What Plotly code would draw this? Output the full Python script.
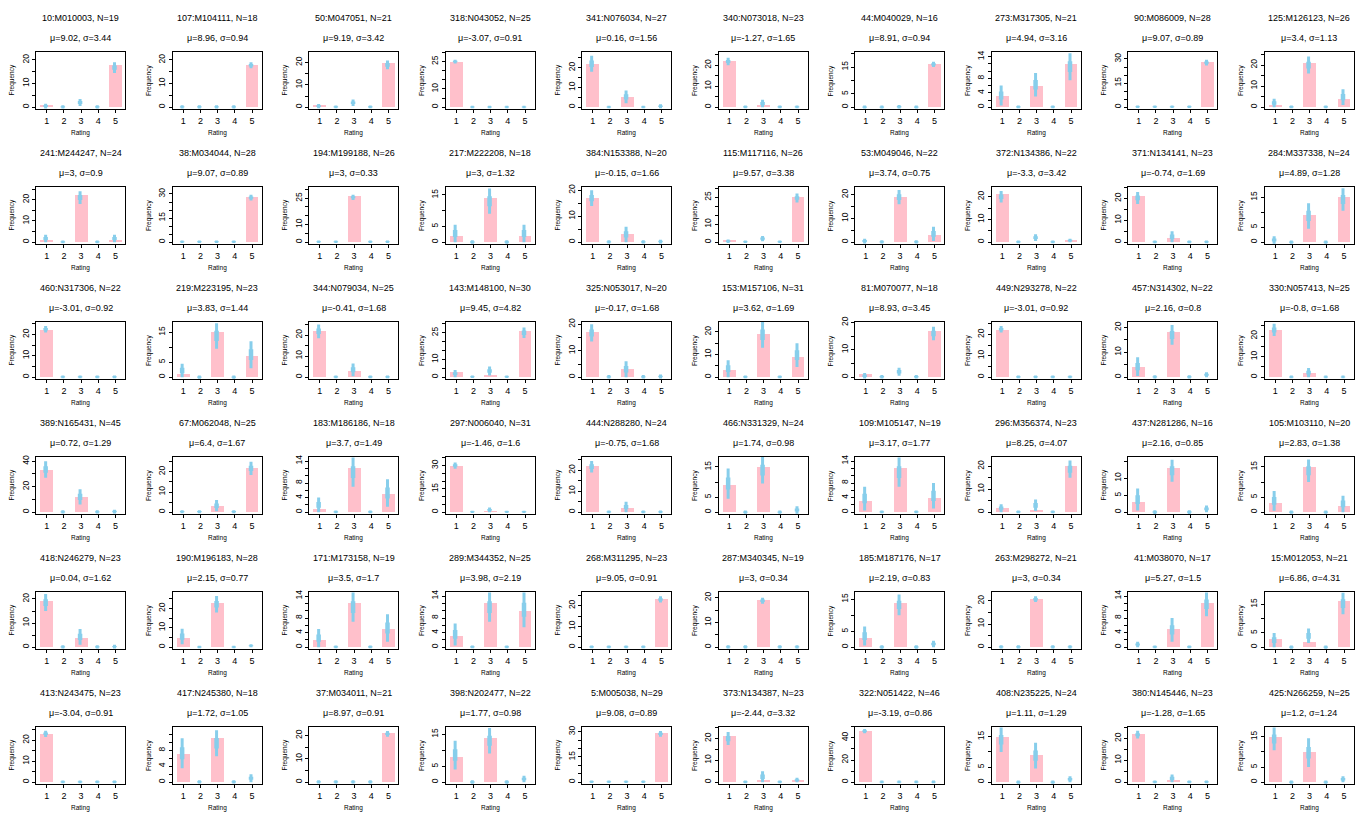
import plotly.graph_objects as go

ratings = [1, 2, 3, 4, 5]

titles = [
    "10:M010003, N=19", "107:M104111, N=18", "50:M047051, N=21", "318:N043052, N=25", "341:N076034, N=27",
    "340:N073018, N=23", "44:M040029, N=16", "273:M317305, N=21", "90:M086009, N=28", "125:M126123, N=26",
    "241:M244247, N=24", "38:M034044, N=28", "194:M199188, N=26", "217:M222208, N=18", "384:N153388, N=20",
    "115:M117116, N=26", "53:M049046, N=22", "372:N134386, N=22", "371:N134141, N=23", "284:M337338, N=24",
    "460:N317306, N=22", "219:M223195, N=23", "344:N079034, N=25", "143:M148100, N=30", "325:N053017, N=20",
    "153:M157106, N=31", "81:M070077, N=18", "449:N293278, N=22", "457:N314302, N=22", "330:N057413, N=25",
    "389:N165431, N=45", "67:M062048, N=25", "183:M186186, N=18", "297:N006040, N=31", "444:N288280, N=24",
    "466:N331329, N=24", "109:M105147, N=19", "296:M356374, N=23", "437:N281286, N=16", "105:M103110, N=20",
    "418:N246279, N=23", "190:M196183, N=28", "171:M173158, N=19", "289:M344352, N=25", "268:M311295, N=23",
    "287:M340345, N=19", "185:M187176, N=17", "263:M298272, N=21", "41:M038070, N=17", "15:M012053, N=21",
    "413:N243475, N=23", "417:N245380, N=18", "37:M034011, N=21", "398:N202477, N=22", "5:M005038, N=29",
    "373:N134387, N=23", "322:N051422, N=46", "408:N235225, N=24", "380:N145446, N=23", "425:N266259, N=25",
]

mus = ["9.02", "8.96", "9.19", "-3.07", "0.16", "-1.27", "8.91", "4.94", "9.07", "3.4",
       "3", "9.07", "3", "3", "-0.15", "9.57", "3.74", "-3.3", "-0.74", "4.89",
       "-3.01", "3.83", "-0.41", "9.45", "-0.17", "3.62", "8.93", "-3.01", "2.16", "-0.8",
       "0.72", "6.4", "3.7", "-1.46", "-0.75", "1.74", "3.17", "8.25", "2.16", "2.83",
       "0.04", "2.15", "3.5", "3.98", "9.05", "3", "2.19", "3", "5.27", "6.86",
       "-3.04", "1.72", "8.97", "1.77", "9.08", "-2.44", "-3.19", "1.11", "-1.28", "1.2"]

sigmas = ["3.44", "0.94", "3.42", "0.91", "1.56", "1.65", "0.94", "3.16", "0.89", "1.13",
          "0.9", "0.89", "0.33", "1.32", "1.66", "3.38", "0.75", "3.42", "1.69", "1.28",
          "0.92", "1.44", "1.68", "4.82", "1.68", "1.69", "3.45", "0.92", "0.8", "1.68",
          "1.29", "1.67", "1.49", "1.6", "1.68", "0.98", "1.77", "4.07", "0.85", "1.38",
          "1.62", "0.77", "1.7", "2.19", "0.91", "0.34", "0.83", "0.34", "1.5", "4.31",
          "0.91", "1.05", "0.91", "0.98", "0.89", "3.32", "0.86", "1.29", "1.65", "1.24"]

counts = [
    [1, 0, 0, 0, 18], [0, 0, 0, 0, 18], [1, 0, 0, 0, 20], [25, 0, 0, 0, 0], [22, 0, 5, 0, 0],
    [22, 0, 1, 0, 0], [0, 0, 0, 0, 16], [3, 0, 6, 0, 12], [0, 0, 0, 0, 28], [1, 0, 21, 0, 4],
    [1, 0, 22, 0, 1], [0, 0, 0, 0, 28], [0, 0, 26, 0, 0], [2, 0, 14, 0, 2], [17, 0, 3, 0, 0],
    [1, 0, 0, 0, 25], [0, 0, 19, 0, 3], [21, 0, 0, 0, 1], [21, 0, 2, 0, 0], [0, 0, 9, 0, 15],
    [22, 0, 0, 0, 0], [1, 0, 15, 0, 7], [22, 0, 3, 0, 0], [3, 0, 1, 0, 26], [17, 0, 3, 0, 0],
    [3, 0, 19, 0, 9], [1, 0, 0, 0, 17], [22, 0, 0, 0, 0], [4, 0, 18, 0, 0], [23, 0, 2, 0, 0],
    [33, 0, 12, 0, 0], [0, 0, 3, 0, 22], [1, 0, 12, 0, 5], [30, 0, 1, 0, 0], [22, 0, 2, 0, 0],
    [9, 0, 15, 0, 0], [3, 0, 12, 0, 4], [2, 0, 1, 0, 20], [3, 0, 13, 0, 0], [3, 0, 15, 0, 2],
    [19, 0, 4, 0, 0], [5, 0, 23, 0, 0], [2, 0, 12, 0, 5], [3, 0, 12, 0, 10], [0, 0, 0, 0, 23],
    [0, 0, 19, 0, 0], [3, 0, 14, 0, 0], [0, 0, 21, 0, 0], [0, 0, 5, 0, 12], [3, 0, 2, 0, 16],
    [23, 0, 0, 0, 0], [7, 0, 11, 0, 0], [0, 0, 0, 0, 21], [8, 0, 14, 0, 0], [0, 0, 0, 0, 29],
    [21, 0, 1, 0, 1], [46, 0, 0, 0, 0], [15, 0, 9, 0, 0], [22, 0, 1, 0, 0], [15, 0, 10, 0, 0],
]

# lower / upper ends of the blue interval for each rating
lo = [
    [-0.5, -0.5, 0.5, -0.5, 14.5], [-0.5, -0.5, -0.5, -0.5, 16.5], [-0.5, -0.5, 0.5, -0.5, 17], [24, -0.5, -0.5, -0.5, -0.5], [18, -0.5, 2, -0.5, -0.5],
    [20, -0.5, 0, -0.5, -0.5], [-0.5, -0.5, -0.5, -0.5, 15], [0.5, -0.3, 3, -0.3, 7.5], [-0.5, -0.5, -0.5, -0.5, 26], [0, -0.5, 16, -0.5, 1],
    [0, -0.5, 18, -0.5, 0], [-0.5, -0.5, -0.5, -0.5, 26], [-0.5, -0.5, 24, -0.5, -0.5], [0, -0.5, 9, -0.5, 0], [14, -0.5, 0, -0.5, -0.5],
    [-0.5, -0.5, 0.5, -0.5, 22], [-0.5, -0.5, 16, -0.5, 0.5], [17.5, -0.5, 0.5, -0.5, 0], [17.5, -0.5, 0, -0.5, -0.5], [-0.5, -0.5, 4.5, -0.5, 10.5],
    [21, -0.5, -0.5, -0.5, -0.5], [0, -0.5, 9.5, -0.5, 3], [18.5, -0.5, 0.5, -0.5, -0.5], [0, -0.5, 1, -0.5, 22], [13.5, -0.5, 0, -0.5, -0.5],
    [0, -0.5, 13, -0.5, 4.5], [-0.5, -0.5, 0.5, -0.5, 13.5], [21, -0.5, -0.5, -0.5, -0.5], [0.5, -0.5, 13, -0.5, 0], [20, -0.5, 0, -0.5, -0.5],
    [27, -1, 6, -1, -1], [-0.5, -0.5, 0.5, -0.5, 18.5], [0, -0.3, 7, -0.3, 1.5], [28, -0.5, 0, -0.5, -0.5], [19, -0.5, 0, -0.5, -0.5],
    [4.5, -0.5, 9.5, -0.5, -0.5], [0.5, -0.3, 7, -0.3, 1], [0, -0.5, 0.5, -0.5, 15], [0.5, -0.5, 9, -0.5, 0], [0.5, -0.5, 10, -0.5, 0],
    [15, -0.5, 1, -0.5, -0.5], [1.5, -0.5, 18, -0.5, 0], [0, -0.3, 7, -0.3, 1.5], [0.5, -0.3, 7, -0.3, 5.5], [-0.5, -0.5, -0.5, -0.5, 21.5],
    [-0.5, -0.5, 17.5, -0.5, -0.5], [0.5, -0.5, 10, -0.5, 0], [-0.5, -0.5, 19.5, -0.5, -0.5], [0, -0.3, 1.5, -0.3, 8.5], [0, -0.5, 1.5, -0.5, 11.5],
    [21.5, -0.5, -0.5, -0.5, -0.5], [3.5, -0.3, 6.5, -0.3, 0], [-0.5, -0.5, -0.5, -0.5, 19.5], [4, -0.5, 9, -0.5, 0], [-0.5, -0.5, -0.5, -0.5, 27],
    [17, -0.5, 0, -0.5, 0], [44, -1, -1, -1, -1], [10, -0.5, 4.5, -0.5, 0], [20, -0.5, 0, -0.5, -0.5], [10.5, -0.5, 5, -0.5, 0],
]

hi = [
    [1.5, 0.8, 3.5, 0.8, 19], [0.8, 0.8, 0.8, 0.8, 19], [1.5, 0.8, 3.5, 0.8, 21], [26, 0.8, 0.8, 0.8, 0.8], [26, 0.8, 8.5, 0.8, 1.5],
    [23.5, 0.8, 3.5, 0.8, 0.8], [0.6, 0.6, 0.8, 0.6, 17], [6, 0.5, 9.5, 0.5, 15], [1, 1, 1, 1, 29.5], [4, 0.8, 24, 0.8, 8.5],
    [3.5, 0.8, 24, 0.8, 3.5], [1, 1, 1, 1, 29.5], [1, 1, 27, 1, 1], [5.5, 0.6, 17, 0.6, 5.5], [20, 0.8, 6, 0.8, 1],
    [1.5, 1, 3.5, 1, 27], [1.5, 0.8, 22, 0.8, 6.5], [22.5, 0.8, 3.5, 0.8, 1.5], [23, 0.8, 5, 0.8, 0.8], [2, 0.6, 13, 0.6, 18],
    [24, 0.8, 0.8, 0.8, 0.8], [4.5, 0.6, 18, 0.6, 12], [25, 0.8, 6.5, 0.8, 0.8], [4, 1, 6, 1, 28], [20, 0.8, 6, 0.8, 1],
    [7.5, 0.8, 24.5, 0.8, 15], [1.5, 0.8, 3.5, 0.8, 18.5], [24, 0.8, 0.8, 0.8, 0.8], [8, 0.8, 21, 0.8, 2], [26, 0.8, 4.5, 0.8, 0.8],
    [40, 1.5, 18, 1.5, 2], [1, 1, 6, 1, 25], [4, 0.5, 15, 0.5, 9], [32, 1, 3, 1, 1], [24.5, 0.8, 5, 0.8, 0.8],
    [14.5, 0.6, 18.5, 0.6, 2], [7, 0.5, 15, 0.5, 8], [3.5, 0.8, 5.5, 0.8, 22.5], [7, 0.6, 15.5, 0.6, 2], [7, 0.6, 17.5, 0.6, 5.5],
    [22, 0.8, 7.5, 0.8, 1], [9.5, 0.8, 26.5, 0.8, 1.5], [5, 0.5, 15, 0.5, 9], [6.5, 0.5, 15, 0.5, 15], [0.8, 0.8, 0.8, 0.8, 24.5],
    [0.8, 0.8, 20, 0.8, 0.8], [6.5, 0.6, 16.5, 0.6, 2], [0.8, 0.8, 22, 0.8, 0.8], [1.5, 0.5, 8, 0.5, 15], [5, 0.6, 6.5, 0.6, 19],
    [24.5, 0.8, 0.8, 0.8, 0.8], [11, 0.5, 13, 0.5, 2], [0.8, 0.8, 0.8, 0.8, 22], [13, 0.6, 17, 0.6, 2], [1, 1, 1, 1, 30.5],
    [23, 0.8, 5, 0.8, 2], [48, 1.5, 1.5, 1.5, 1.5], [18, 0.6, 13, 0.6, 2], [23.5, 0.8, 3.5, 0.8, 0.8], [18, 0.6, 14.5, 0.6, 2],
]

# upper limit of each panel's y axis (read from the box top)
ytop = [23.5, 23.5, 24.9, 30.4, 28.1, 26.4, 20.7, 15.4, 34.5, 26.3,
        26.1, 34.5, 31.5, 17.6, 21.4, 30.8, 23.4, 24.4, 25.4, 18.5,
        26.0, 18.5, 26.3, 31.2, 21.0, 24.5, 20.3, 26.0, 22.3, 27.0,
        43.5, 27.5, 15.2, 35.7, 26.5, 18.4, 15.2, 24.2, 16.4, 18.4,
        23.0, 28.7, 15.2, 15.2, 26.7, 22.4, 17.4, 24.0, 15.2, 19.4,
        26.4, 13.9, 23.8, 17.4, 33.0, 25.4, 50.0, 18.3, 25.4, 18.3]

ytick_step = [5, 5, 5, 5, 5, 5, 5, 2, 5, 5,
              5, 5, 5, 5, 5, 5, 5, 5, 5, 5,
              5, 5, 5, 5, 5, 5, 5, 5, 5, 5,
              10, 5, 2, 5, 5, 5, 2, 5, 5, 5,
              5, 5, 2, 2, 5, 5, 5, 5, 2, 5,
              5, 2, 5, 5, 5, 5, 10, 5, 5, 5]

ytick_labels = [
    [0, 10, 20], [0, 10, 20], [0, 10, 20], [0, 10, 25], [0, 10, 20], [0, 10, 20], [0, 5, 15], [0, 4, 8, 14], [0, 15, 30], [0, 10, 20],
    [0, 10, 20], [0, 15, 30], [0, 10, 25], [0, 5, 15], [0, 10, 20], [0, 10, 25], [0, 10, 20], [0, 10, 20], [0, 10, 20], [0, 5, 15],
    [0, 10, 20], [0, 5, 15], [0, 10, 20], [0, 10, 25], [0, 10, 20], [0, 10, 20], [0, 10, 20], [0, 10, 20], [0, 10, 20], [0, 10, 20],
    [0, 20, 40], [0, 10, 20], [0, 4, 8, 14], [0, 15, 30], [0, 10, 20], [0, 5, 15], [0, 4, 8, 14], [0, 10, 20], [0, 5, 10], [0, 5, 15],
    [0, 10, 20], [0, 10, 20], [0, 4, 8, 14], [0, 4, 8, 14], [0, 10, 20], [0, 10, 20], [0, 5, 15], [0, 10, 20], [0, 4, 8, 14], [0, 5, 15],
    [0, 10, 20], [0, 4, 8], [0, 10, 20], [0, 5, 15], [0, 15, 30], [0, 10, 20], [0, 20, 40], [0, 5, 15], [0, 10, 20], [0, 5, 15],
]

W, H = 1365, 815
NCOL, NROW = 10, 6
CW, CH = W / NCOL, H / NROW
BOX_L, BOX_R = 36, 125      # px inside a cell
BOX_T, BOX_B = 47, 105

PINK = "#FFC0CB"
BLUE = "#87CEEB"
FONT = "Liberation Sans, Arial, sans-serif"

fig = go.Figure()
annotations = []

for i in range(60):
    r, c = divmod(i, NCOL)
    k = i + 1
    xs = "x" if k == 1 else f"x{k}"
    ys = "y" if k == 1 else f"y{k}"
    x0 = (c * CW + BOX_L) / W
    x1 = (c * CW + BOX_R) / W
    y1 = 1 - (r * CH + BOX_T) / H
    y0 = 1 - (r * CH + BOX_B) / H

    cnt = counts[i]
    l = lo[i]
    h = [min(v, ytop[i]) for v in hi[i]]
    top = ytop[i]
    yr = [-0.04 * top / 1.04, top]

    fig.add_trace(go.Bar(x=ratings, y=cnt, width=0.75, marker=dict(color=PINK, line=dict(width=0)),
                         xaxis=xs, yaxis=ys, showlegend=False, hoverinfo="skip", cliponaxis=True))
    bx = [v - 0.06 for v in ratings]
    mid = [(a + b) / 2 for a, b in zip(l, h)]
    fig.add_trace(go.Scatter(x=bx, y=mid, mode="markers", marker=dict(size=0.1, color=BLUE),
                             error_y=dict(type="data", symmetric=False,
                                          array=[b - m for b, m in zip(h, mid)],
                                          arrayminus=[m - a for a, m in zip(l, mid)],
                                          color=BLUE, thickness=3, width=0),
                             xaxis=xs, yaxis=ys, showlegend=False, hoverinfo="skip"))
    inner = [(b - a) / 5 for a, b in zip(l, h)]
    fig.add_trace(go.Scatter(x=bx, y=mid, mode="markers", marker=dict(size=0.1, color=BLUE),
                             error_y=dict(type="data", array=inner, color=BLUE, thickness=4.5, width=0),
                             xaxis=xs, yaxis=ys, showlegend=False, hoverinfo="skip"))

    step = ytick_step[i]
    tv = list(range(0, int(top) + 1, step))
    tt = [str(v) if v in ytick_labels[i] else "" for v in tv]

    fig.layout[("xaxis" if k == 1 else f"xaxis{k}")] = dict(
        domain=[x0, x1], anchor=ys, range=[0.38, 5.55], tickvals=ratings, ticktext=[str(v) for v in ratings],
        showline=True, mirror=True, linecolor="black", linewidth=1, ticks="outside", ticklen=3,
        tickcolor="black", showgrid=False, zeroline=False, fixedrange=True,
        tickfont=dict(family=FONT, size=9, color="black"))
    fig.layout[("yaxis" if k == 1 else f"yaxis{k}")] = dict(
        domain=[y0, y1], anchor=xs, range=yr, tickvals=tv, ticktext=tt, tickangle=-90,
        showline=True, mirror=True, linecolor="black", linewidth=1, ticks="outside", ticklen=3,
        tickcolor="black", showgrid=False, zeroline=False, fixedrange=True,
        tickfont=dict(family=FONT, size=8.5, color="black"))

    cx = (c * CW + (BOX_L + BOX_R) / 2) / W
    annotations.append(dict(text=titles[i], x=cx, y=1 - (r * CH + 13) / H, xref="paper", yref="paper",
                            showarrow=False, font=dict(family=FONT, size=9, color="black"),
                            xanchor="center", yanchor="middle"))
    annotations.append(dict(text=f"μ={mus[i]}, σ={sigmas[i]}", x=cx, y=1 - (r * CH + 33) / H,
                            xref="paper", yref="paper", showarrow=False,
                            font=dict(family=FONT, size=9, color="black"), xanchor="center", yanchor="middle"))
    annotations.append(dict(text="Rating", x=cx, y=1 - (r * CH + 129) / H, xref="paper", yref="paper",
                            showarrow=False, font=dict(family=FONT, size=6.5, color="black"),
                            xanchor="center", yanchor="middle"))
    annotations.append(dict(text="Frequency", x=(c * CW + 12) / W, y=1 - (r * CH + (BOX_T + BOX_B) / 2) / H,
                            xref="paper", yref="paper", showarrow=False, textangle=-90,
                            font=dict(family=FONT, size=6.5, color="black"), xanchor="center", yanchor="middle"))

fig.update_layout(width=W, height=H, margin=dict(l=0, r=0, t=0, b=0), plot_bgcolor="white",
                  paper_bgcolor="white", annotations=annotations, bargap=0)
fig.write_html("out.html", config={"displayModeBar": False, "staticPlot": True},
               post_script="document.body.style.margin='0px';document.body.style.overflow='hidden';")
